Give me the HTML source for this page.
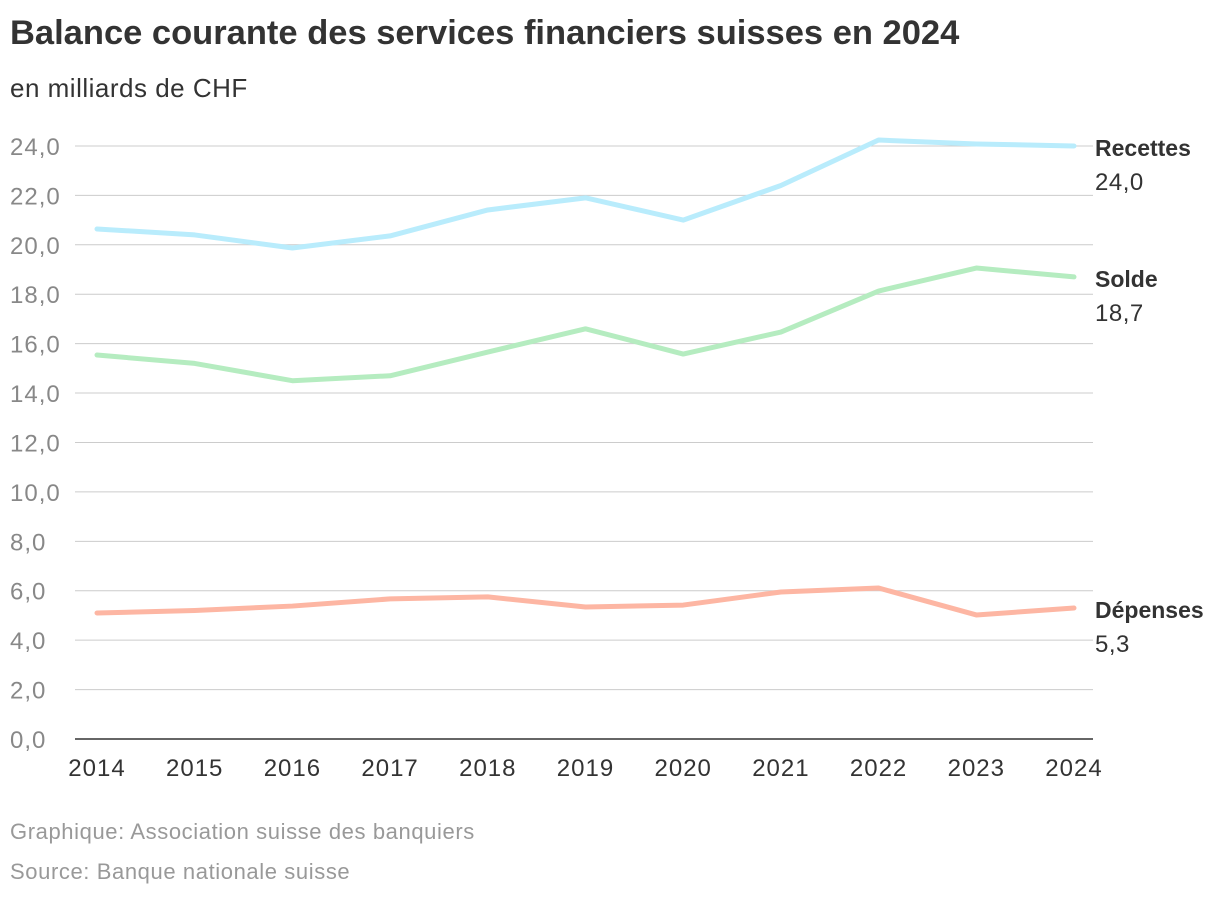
<!DOCTYPE html>
<html><head><meta charset="utf-8"><style>
body{margin:0;background:#fff;font-family:"Liberation Sans",sans-serif;}
#wrap{position:relative;width:1220px;height:898px;overflow:hidden}
</style></head><body>
<div id="wrap">
<svg id="chart" width="1220" height="898">
<text x="10" y="44" font-size="34.5" font-weight="bold" fill="#333">Balance courante des services financiers suisses en 2024</text>
<text x="10" y="97" font-size="26" fill="#333" letter-spacing="0.5">en milliards de CHF</text>
<g id="grid"></g><g id="lines"></g><g id="labels"></g>
<text x="10" y="839" font-size="22" fill="#999" letter-spacing="0.6">Graphique: Association suisse des banquiers</text>
<text x="10" y="879" font-size="22" fill="#999" letter-spacing="0.6">Source: Banque nationale suisse</text>
</svg></div>
<script>
const years=[2014,2015,2016,2017,2018,2019,2020,2021,2022,2023,2024];
const recettes=[20.64,20.4,19.87,20.36,21.41,21.9,21.0,22.4,24.24,24.08,24.0];
const solde=[15.54,15.2,14.5,14.7,15.66,16.6,15.58,16.47,18.13,19.06,18.7];
const depenses=[5.1,5.2,5.38,5.67,5.75,5.34,5.42,5.95,6.11,5.02,5.3];
const yTicks=[0,2,4,6,8,10,12,14,16,18,20,22,24];
const NS="http://www.w3.org/2000/svg";
const x=i=>97+i*97.7;
const y=v=>739-v*24.71;
function mk(tag,attrs,parent){const e=document.createElementNS(NS,tag);for(const k in attrs)e.setAttribute(k,attrs[k]);parent.appendChild(e);return e;}
const grid=document.getElementById('grid');
yTicks.forEach(t=>{
  const l=mk('line',{x1:75,x2:1093,y1:y(t),y2:y(t),stroke:t===0?'#333':'#ccc','stroke-width':t===0?1.5:1},grid);
  
  
  const tx=mk('text',{x:10,y:y(t)+9,'font-size':24,fill:'#888','letter-spacing':1},grid);
  tx.textContent=t.toFixed(1).replace('.',',');
  
  
});
years.forEach((yr,i)=>{
  const tx=mk('text',{x:x(i),y:776,'font-size':24,fill:'#333','text-anchor':'middle','letter-spacing':1},grid);
  tx.textContent=yr;
  
  
});
const series=[["Recettes",recettes,"#b9ecfc"],["Solde",solde,"#b5ecc0"],["Dépenses",depenses,"#fdb6a3"]];
const lines=document.getElementById('lines'),labels=document.getElementById('labels');
series.forEach(([name,vals,col])=>{
  const p=mk('polyline',{points:vals.map((v,i)=>x(i)+','+y(v)).join(' '),fill:'none',stroke:col,'stroke-width':5,'stroke-linejoin':'round','stroke-linecap':'round'},lines);
  
  
  const last=vals[vals.length-1],ly=y(last);
  const t1=mk('text',{x:1095,y:ly+10,'font-size':23,'font-weight':'bold',fill:'#333'},labels);
  t1.textContent=name;
  
  
  const t2=mk('text',{x:1095,y:ly+44,'font-size':24,fill:'#333','letter-spacing':0.5},labels);
  t2.textContent=last.toFixed(1).replace('.',',');
  
  
});
</script></body></html>
